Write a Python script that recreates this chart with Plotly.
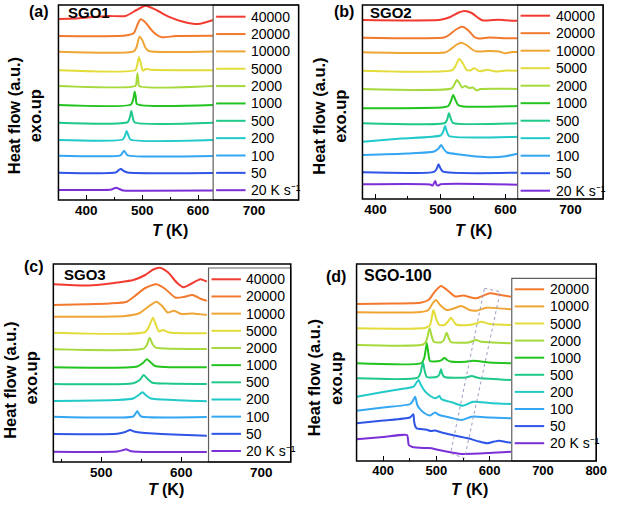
import plotly.graph_objects as go

W, H = 620, 506
FONT = "Arial, Liberation Sans, sans-serif"

# ---------------- data (stacked heat flow, a.u.) ----------------
colors = {40000: '#F23B30', 20000: '#F2792E', 10000: '#EFA535', 5000: '#E3DC3A',
          2000: '#A6D93B', 1000: '#23C41F', 500: '#1FC98A', 200: '#22C9C9',
          100: '#34A6F2', 50: '#2E54E8', 20: '#7B2FD6'}

rates_abc = [40000, 20000, 10000, 5000, 2000, 1000, 500, 200, 100, 50, 20]
rates_d = [20000, 10000, 5000, 2000, 1000, 500, 200, 100, 50, 20]

# Panel (a) SGO1
T_a_40000 = [350, 380, 410, 440, 470, 490, 506, 525, 547, 575, 600, 627]
hf_a_40000 = [181, 181.5, 183, 184, 184, 190, 194.3, 190, 183.3, 178, 176, 180]
T_a_20000 = [350, 470, 485, 492, 497, 505, 515, 525, 535, 560, 627]
hf_a_20000 = [164, 164.5, 167, 176, 180.7, 178, 171, 165.5, 162.7, 164, 164.3]
T_a_10000 = [350, 485, 490, 495, 500, 506, 512, 627]
hf_a_10000 = [148.3, 148.7, 153, 163.3, 160, 152, 149, 148.5]
T_a_5000 = [350, 488, 491, 494, 497, 500, 502, 506, 515, 627]
hf_a_5000 = [129.7, 130, 135, 142.7, 138, 130.5, 129.3, 131, 130.3, 129.8]
T_a_2000 = [350, 488, 490, 491.5, 493, 494.5, 627]
hf_a_2000 = [114, 114.3, 120, 126.7, 120, 114, 114]
T_a_1000 = [350, 480, 484, 486.5, 488.5, 490.5, 627]
hf_a_1000 = [95, 95.5, 101, 108.3, 103, 96, 95]
T_a_500 = [350, 474, 478, 480.5, 483, 486, 627]
hf_a_500 = [77.3, 77.8, 83, 89, 83, 77.8, 77.3]
T_a_200 = [350, 465, 469, 472, 475, 479, 627]
hf_a_200 = [60, 60.5, 64, 69, 65, 60.5, 60]
T_a_100 = [350, 461, 465, 467.5, 470.5, 474, 627]
hf_a_100 = [44.3, 44.7, 47.5, 49.3, 47, 44.7, 44]
T_a_50 = [350, 453, 458, 462, 467, 474, 627]
hf_a_50 = [27.3, 27.6, 30, 31, 29, 27.5, 27]
T_a_20 = [350, 445, 450, 454, 459, 466, 500, 627]
hf_a_20 = [10, 10.5, 11.8, 12.3, 11, 9.5, 9.3, 9.5]

# Panel (b) SGO2
T_b_40000 = [380, 500, 515, 528, 537, 548, 558, 565, 590, 600, 620]
hf_b_40000 = [180, 180.2, 183, 187.5, 189, 187, 182, 179.5, 180.3, 179.7, 179.3]
T_b_20000 = [380, 505, 512, 525, 534, 542, 552, 558, 575, 590, 600, 620]
hf_b_20000 = [162.3, 162.5, 164.5, 171, 173.3, 170, 163, 161.5, 162.5, 162, 161.7, 161.7]
T_b_10000 = [380, 508, 515, 525, 532, 540, 550, 556, 575, 590, 600, 610, 620]
hf_b_10000 = [147.7, 147.8, 150.5, 155.5, 157.3, 155, 150, 148.5, 149, 148.5, 146.7, 148, 148]
T_b_5000 = [380, 518, 523, 528.7, 534, 540, 545, 552, 560, 572, 585, 600, 620]
hf_b_5000 = [129.3, 129.8, 134, 141, 137, 130, 129.5, 131.7, 128.7, 130.3, 128.5, 129.5, 129.3]
T_b_2000 = [380, 517, 521, 525, 529, 533, 538, 544, 550, 555, 562, 620]
hf_b_2000 = [111, 111.5, 115, 120, 117, 112.5, 114, 112, 112.5, 109.7, 111, 111]
T_b_1000 = [380, 505, 512, 516, 519.6, 523, 527, 535, 620]
hf_b_1000 = [91.7, 92.8, 94, 99, 105, 100, 95, 93.5, 94]
T_b_500 = [380, 507, 510, 513, 516, 519, 620]
hf_b_500 = [76.7, 77, 80, 86.7, 81, 77.2, 76.7]
T_b_200 = [380, 440, 500, 504, 507, 510, 513, 620]
hf_b_200 = [58.3, 61.5, 64.5, 68, 74, 68, 64, 63.3]
T_b_100 = [380, 450, 490, 497, 501, 505, 510, 530, 555, 580, 600, 620]
hf_b_100 = [45, 46.5, 48.5, 51.5, 55, 51, 47.5, 45.5, 43.5, 42.7, 43.8, 46.5]
T_b_50 = [380, 490, 494, 497, 500, 504, 620]
hf_b_50 = [27.7, 28.2, 31, 35.7, 31.5, 28.3, 27.3]
T_b_20 = [380, 484, 488, 490, 492, 494, 497, 500, 620]
hf_b_20 = [15.7, 15.5, 14.5, 17, 19, 15, 14.5, 15.7, 15.3]

# Panel (c) SGO3
T_c_40000 = [440, 480, 500, 520, 540, 555, 565, 573, 583, 595, 603, 612, 624, 632]
hf_c_40000 = [177.7, 176.5, 177.5, 179.5, 182, 187, 192.5, 194.3, 190, 179, 174.7, 178, 182.7, 180.3]
T_c_20000 = [440, 480, 510, 532, 542, 555, 569, 580, 593, 603, 614, 625, 632]
hf_c_20000 = [157, 157.7, 158.5, 160.3, 166, 174, 177.7, 173, 164.3, 165, 167, 163, 161.3]
T_c_10000 = [440, 530, 548, 560, 569, 576, 583, 591, 600, 614, 632]
hf_c_10000 = [145.3, 146, 149, 156, 160.3, 156, 149.5, 151.3, 148, 148.5, 147]
T_c_5000 = [440, 555, 560, 564.6, 568, 572, 577, 585, 632]
hf_c_5000 = [129.3, 130, 136, 144.3, 138, 130.5, 132, 129.5, 128.7]
T_c_2000 = [440, 553, 557, 560.5, 564, 568, 580, 632]
hf_c_2000 = [112.7, 113.3, 117, 124.3, 118, 114.3, 113.5, 113]
T_c_1000 = [440, 545, 552, 557, 562, 567, 580, 632]
hf_c_1000 = [94.7, 95.5, 99, 102.7, 99.5, 96, 95, 94.7]
T_c_500 = [440, 540, 548, 553, 558, 564, 580, 632]
hf_c_500 = [78, 78.8, 82, 87, 83, 79.3, 78.5, 78]
T_c_200 = [440, 520, 540, 546, 551.5, 556, 562, 590, 632]
hf_c_200 = [61, 62, 63.5, 66.5, 69.7, 66.5, 63.5, 62, 60.7]
T_c_100 = [440, 540, 542.5, 545, 547.5, 550, 632]
hf_c_100 = [45.3, 45.5, 48, 51, 47.5, 45.5, 45]
T_c_50 = [440, 520, 530, 536, 541, 548, 560, 590, 632]
hf_c_50 = [28, 28.3, 30, 32, 30.5, 29.5, 28.8, 27.5, 26.3]
T_c_20 = [440, 520, 527, 531, 536, 545, 632]
hf_c_20 = [10.3, 10.5, 11.8, 12.7, 11, 10.2, 10]

# Panel (d) SGO-100
T_d_20000 = [350, 420, 470, 485, 498, 508.6, 520, 535, 550, 575, 600, 620, 640]
hf_d_20000 = [157, 157.5, 158.3, 161, 170, 175, 171, 164.5, 165.5, 162.7, 167.7, 166, 164.3]
T_d_10000 = [350, 470, 485, 492, 499, 507, 519, 535, 547, 562, 575, 594, 640]
hf_d_10000 = [148.7, 149, 151, 157, 161, 156, 151, 153, 155, 151, 150.3, 153.3, 151.7]
T_d_5000 = [350, 480, 488, 494.3, 499, 505.5, 515, 521, 527, 532, 537, 560, 575, 584, 600, 640]
hf_d_5000 = [132.7, 133.3, 136, 151, 143, 136, 136, 139, 143.3, 140, 136.5, 136, 137.5, 139.3, 137, 136]
T_d_2000 = [350, 475, 481, 487, 491, 495, 508, 514, 519, 523, 527, 560, 568, 575, 582, 640]
hf_d_2000 = [116, 116.5, 120, 132.7, 125, 119.3, 118.5, 121, 128.3, 123, 119, 118.5, 120, 121, 119.5, 117.7]
T_d_1000 = [350, 472, 477, 482, 485, 488, 505, 510, 515, 520, 526, 555, 569, 600, 640]
hf_d_1000 = [97.7, 98, 103, 117.7, 107, 100, 100, 101, 103.3, 101, 99.5, 99.3, 100.3, 98.5, 97.7]
T_d_500 = [350, 465, 470, 474.5, 478, 482, 500, 505, 508.6, 511, 515, 555, 566, 580, 640]
hf_d_500 = [82.7, 83.3, 88, 98.7, 90, 84, 84, 86, 91.7, 87, 84, 83.5, 85, 83, 81]
T_d_200 = [350, 400, 440, 457, 462, 466.4, 471, 479, 490, 498, 502, 505.5, 509, 513, 530, 550, 569, 600, 640]
hf_d_200 = [64.3, 69, 72.5, 74.3, 78, 81, 76, 69.3, 64.5, 62.7, 63.8, 65, 62, 61, 58.5, 55.3, 59.3, 58, 57]
T_d_100 = [350, 400, 451, 456, 460, 464, 469.5, 480, 488, 497.5, 505, 525, 547, 566, 600, 640]
hf_d_100 = [50.3, 53.5, 57, 60.5, 64.3, 56, 51.7, 47, 45.5, 48.5, 46, 43.5, 41, 44.3, 43.5, 42.7]
T_d_50 = [350, 400, 450, 456.6, 458, 460, 463, 480, 490, 497, 510, 530, 559, 580, 595, 605, 618, 630, 640]
hf_d_50 = [37.7, 40.5, 43.5, 46.7, 40, 35, 32.7, 31.5, 30, 30.5, 28.5, 26, 22.7, 19.5, 17.7, 19, 20.3, 19, 18.3]
T_d_20 = [350, 400, 444.7, 446.5, 448, 455, 480, 491, 500, 531, 550, 600, 640]
hf_d_20 = [21.7, 24, 26, 22, 16, 14, 13, 12.7, 11.5, 8.3, 7, 8, 9.3]

# dotted guide box in (d)
box_T = [590, 619.7, 552.8, 526.6, 590]
box_hf = [172.7, 169.3, 2.7, 7.7, 172.7]

curves_a = [(T_a_40000, hf_a_40000), (T_a_20000, hf_a_20000), (T_a_10000, hf_a_10000),
            (T_a_5000, hf_a_5000), (T_a_2000, hf_a_2000), (T_a_1000, hf_a_1000),
            (T_a_500, hf_a_500), (T_a_200, hf_a_200), (T_a_100, hf_a_100),
            (T_a_50, hf_a_50), (T_a_20, hf_a_20)]
curves_b = [(T_b_40000, hf_b_40000), (T_b_20000, hf_b_20000), (T_b_10000, hf_b_10000),
            (T_b_5000, hf_b_5000), (T_b_2000, hf_b_2000), (T_b_1000, hf_b_1000),
            (T_b_500, hf_b_500), (T_b_200, hf_b_200), (T_b_100, hf_b_100),
            (T_b_50, hf_b_50), (T_b_20, hf_b_20)]
curves_c = [(T_c_40000, hf_c_40000), (T_c_20000, hf_c_20000), (T_c_10000, hf_c_10000),
            (T_c_5000, hf_c_5000), (T_c_2000, hf_c_2000), (T_c_1000, hf_c_1000),
            (T_c_500, hf_c_500), (T_c_200, hf_c_200), (T_c_100, hf_c_100),
            (T_c_50, hf_c_50), (T_c_20, hf_c_20)]
curves_d = [(T_d_20000, hf_d_20000), (T_d_10000, hf_d_10000), (T_d_5000, hf_d_5000),
            (T_d_2000, hf_d_2000), (T_d_1000, hf_d_1000), (T_d_500, hf_d_500),
            (T_d_200, hf_d_200), (T_d_100, hf_d_100), (T_d_50, hf_d_50), (T_d_20, hf_d_20)]

# ---------------- layout (pixel geometry) ----------------
panels = [
    dict(sfx='', curves=curves_a, rates=rates_abc, name='SGO1', tag='(a)',
         plot=(59.5, 304, 5, 200), xr=[350, 780], yr=[0, 195],
         leg=(217, 304, 5, 200), leg_y0=16.7, leg_dy=17.35,
         tagpos=(40, 12), namepos=(67, 12.5), namesize=15,
         xt=(173, 230), yt1=(14.5, 116), yt2=(36, 116), tickfs=13.5),
    dict(sfx='2', curves=curves_b, rates=rates_abc, name='SGO2', tag='(b)',
         plot=(369, 614, 5, 199), xr=[380, 750], yr=[1, 195],
         leg=(527, 614, 5, 199), leg_y0=15.7, leg_dy=17.5,
         tagpos=(350, 12), namepos=(375, 12.5), namesize=15,
         xt=(482, 230), yt1=(324.5, 116), yt2=(346, 116), tickfs=13.5),
    dict(sfx='3', curves=curves_c, rates=rates_abc, name='SGO3', tag='(c)',
         plot=(54.3, 296, 264, 462), xr=[440, 737], yr=[0, 198],
         leg=(212.3, 296, 268, 462), leg_y0=279.3, leg_dy=17.17,
         tagpos=(35, 266), namepos=(63, 274), namesize=15,
         xt=(169, 489), yt1=(10, 380), yt2=(32, 378), tickfs=13.5),
    dict(sfx='4', curves=curves_d, rates=rates_d, name='SGO-100', tag='(d)',
         plot=(363, 607, 264, 461), xr=[350, 800], yr=[0, 197],
         leg=(521, 607, 278.3, 461), leg_y0=289.3, leg_dy=17.1,
         tagpos=(342, 276), namepos=(368.5, 275), namesize=16,
         xt=(478, 489), yt1=(320, 378), yt2=(342, 378), tickfs=13),
]


def px(x):
    return x / W


def py(y):
    return 1 - y / H


def bold(size, style='normal'):
    return dict(family=FONT, size=size, color='black', weight='bold', style=style)


fig = go.Figure()
shapes = []
annotations = []
layout = {}

for p in panels:
    sfx = p['sfx']
    xa, ya = 'x' + sfx, 'y' + sfx
    for (T, hf), r in zip(p['curves'], p['rates']):
        fig.add_trace(go.Scatter(x=T, y=hf, mode='lines', xaxis=xa, yaxis=ya,
                                 line=dict(color=colors[r], width=2, shape='spline', smoothing=0.6),
                                 showlegend=False, hoverinfo='skip'))
    if sfx == '4':
        fig.add_trace(go.Scatter(x=box_T, y=box_hf, mode='lines', xaxis=xa, yaxis=ya,
                                 line=dict(color='#9A9AC0', width=1, dash='dot'),
                                 showlegend=False, hoverinfo='skip'))
    x0, x1, y0, y1 = p['plot']
    layout['xaxis' + sfx] = dict(
        domain=[px(x0), px(x1)], anchor=ya, range=p['xr'],
        tick0=0, dtick=100, ticks='inside', ticklen=5, tickwidth=1.3, tickcolor='black',
        minor=dict(ticks='inside', ticklen=3, dtick=50, tickwidth=1, tickcolor='black'),
        showgrid=False, zeroline=False, showline=False,
        tickfont=bold(p['tickfs']))
    layout['yaxis' + sfx] = dict(
        domain=[py(y1), py(y0)], anchor=xa, range=p['yr'],
        showticklabels=False, ticks='', showgrid=False, zeroline=False, showline=False)

    # legend box
    lx0, lx1, ly0, ly1 = p['leg']
    shapes.append(dict(type='rect', xref='paper', yref='paper', layer='above',
                       x0=px(lx0), x1=px(lx1), y0=py(ly1), y1=py(ly0),
                       fillcolor='white', line=dict(color='#606060', width=1.2)))
    for i, r in enumerate(p['rates']):
        yy = p['leg_y0'] + i * p['leg_dy']
        shapes.append(dict(type='line', xref='paper', yref='paper', layer='above',
                           x0=px(lx0 + 3), x1=px(lx0 + 33), y0=py(yy), y1=py(yy),
                           line=dict(color=colors[r], width=2)))
        label = '20 K s\u207b\u00b9' if r == 20 else str(r)
        annotations.append(dict(text=label, xref='paper', yref='paper',
                                x=px(lx0 + 36.5), y=py(yy), xanchor='left', yanchor='middle',
                                showarrow=False, font=dict(family=FONT, size=14, color='black')))
    # frame
    shapes.append(dict(type='rect', xref=xa + ' domain', yref=ya + ' domain', layer='above',
                       x0=0, x1=1, y0=0, y1=1, line=dict(color='black', width=1.5)))

    # texts
    annotations.append(dict(text=p['tag'], xref='paper', yref='paper',
                            x=px(p['tagpos'][0]), y=py(p['tagpos'][1]), xanchor='center', yanchor='middle',
                            showarrow=False, font=bold(16)))
    annotations.append(dict(text=p['name'], xref='paper', yref='paper',
                            x=px(p['namepos'][0]), y=py(p['namepos'][1]), xanchor='left', yanchor='middle',
                            showarrow=False, font=bold(p['namesize'])))
    annotations.append(dict(text='T', xref='paper', yref='paper',
                            x=px(p['xt'][0] - 6.5), y=py(p['xt'][1]), xanchor='right', yanchor='middle',
                            showarrow=False, font=bold(16, 'italic'), borderpad=0))
    annotations.append(dict(text='(K)', xref='paper', yref='paper',
                            x=px(p['xt'][0] - 5), y=py(p['xt'][1]), xanchor='left', yanchor='middle',
                            showarrow=False, font=bold(16), borderpad=0))
    annotations.append(dict(text='Heat flow (a.u.)', xref='paper', yref='paper',
                            x=px(p['yt1'][0]), y=py(p['yt1'][1]), xanchor='center', yanchor='middle',
                            textangle=-90, showarrow=False, font=bold(16.5)))
    annotations.append(dict(text='exo.up', xref='paper', yref='paper',
                            x=px(p['yt2'][0]), y=py(p['yt2'][1]), xanchor='center', yanchor='middle',
                            textangle=-90, showarrow=False, font=bold(16.5)))

fig.update_layout(width=W, height=H, margin=dict(l=0, r=0, t=0, b=0),
                  paper_bgcolor='white', plot_bgcolor='white',
                  shapes=shapes, annotations=annotations, showlegend=False, **layout)

fig.write_html("out.html")
